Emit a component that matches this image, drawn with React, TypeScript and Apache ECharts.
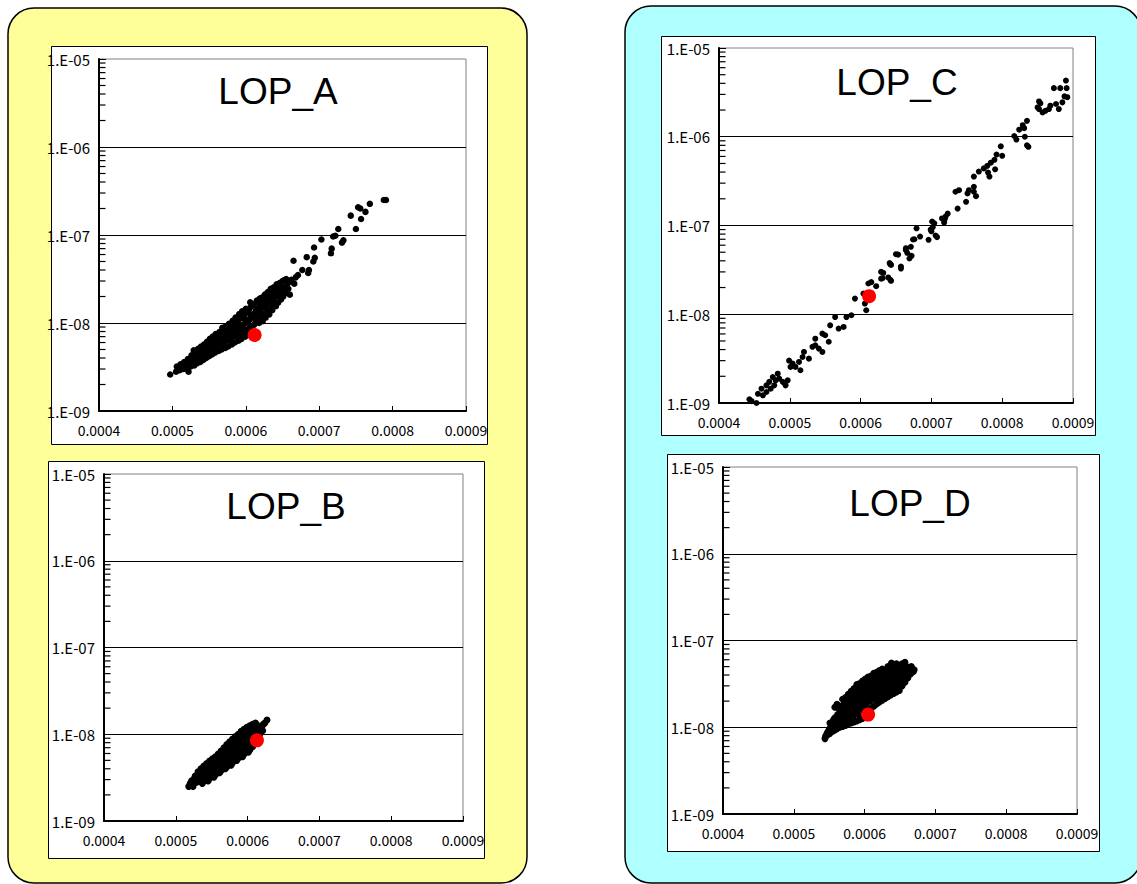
import React, { useEffect, useRef } from 'react';
import * as echarts from 'echarts';

// ---------- tick labels ----------
const xTickLabels = ['0.0004', '0.0005', '0.0006', '0.0007', '0.0008', '0.0009'];
const yTickLabels = ['1.E-09', '1.E-08', '1.E-07', '1.E-06', '1.E-05'];
const xMin = 0.0004;
const xMax = 0.0009;
const xStep = 0.0001;
const yMin = 1e-9;
const yMax = 1e-5;
const minorDecades = [1e-9, 1e-8, 1e-7, 1e-6];
const minorMultipliers = [2, 3, 4, 5, 6, 7, 8, 9];

const chartNames = ['LOP_A', 'LOP_B', 'LOP_C', 'LOP_D'];

// ---------- data (x, y) ----------
const lopA: number[][] = [
  [0.000497, 2.6e-9],
  [0.000505, 2.8e-9], [0.000506, 3.2e-9],
  [0.00051, 2.9e-9], [0.000511, 3.4e-9], [0.000512, 3.1e-9],
  [0.000515, 3.0e-9], [0.000516, 3.6e-9], [0.000517, 3.3e-9],
  [0.00052, 3.0e-9], [0.000521, 3.9e-9], [0.000519, 3.4e-9], [0.000522, 2.8e-9],
  [0.000525, 3.2e-9], [0.000526, 4.3e-9], [0.000524, 3.7e-9],
  [0.00053, 3.3e-9], [0.000529, 4.9e-9], [0.000531, 3.9e-9], [0.000532, 4.4e-9],
  [0.000534, 3.5e-9], [0.000535, 5.1e-9], [0.000533, 4.2e-9], [0.000536, 4.7e-9],
  [0.000538, 3.6e-9], [0.000539, 5.4e-9], [0.000537, 4.5e-9], [0.00054, 4.0e-9],
  [0.000542, 3.8e-9], [0.000543, 5.7e-9], [0.000541, 4.8e-9], [0.000544, 5.2e-9],
  [0.000546, 4.0e-9], [0.000547, 6.1e-9], [0.000545, 5.0e-9], [0.000548, 4.5e-9],
  [0.00055, 4.2e-9], [0.000551, 6.6e-9], [0.000549, 5.4e-9], [0.000552, 4.8e-9], [0.000553, 6.0e-9],
  [0.000554, 4.4e-9], [0.000555, 7.0e-9], [0.000556, 5.7e-9], [0.000557, 5.1e-9],
  [0.000558, 4.6e-9], [0.000559, 7.5e-9], [0.00056, 6.1e-9], [0.000561, 5.4e-9], [0.000562, 6.8e-9],
  [0.000563, 4.8e-9], [0.000564, 7.9e-9], [0.000565, 6.5e-9], [0.000566, 5.7e-9],
  [0.000567, 5.0e-9], [0.000568, 8.8e-9], [0.000569, 6.9e-9], [0.00057, 6.0e-9], [0.000571, 7.6e-9],
  [0.000572, 5.2e-9], [0.000573, 9.2e-9], [0.000574, 7.3e-9], [0.000575, 6.3e-9],
  [0.000576, 5.4e-9], [0.000577, 9.8e-9], [0.000578, 7.7e-9], [0.000579, 6.6e-9], [0.00058, 8.6e-9],
  [0.000581, 5.7e-9], [0.000582, 1.06e-8], [0.000583, 8.1e-9], [0.000584, 7.0e-9],
  [0.000585, 6.0e-9], [0.000586, 1.15e-8], [0.000587, 8.6e-9], [0.000588, 7.3e-9], [0.000589, 9.8e-9],
  [0.00059, 6.3e-9], [0.000591, 1.26e-8], [0.000592, 9.1e-9], [0.000593, 7.7e-9],
  [0.000594, 6.6e-9], [0.000595, 1.36e-8], [0.000596, 9.6e-9], [0.000597, 8.1e-9], [0.000598, 1.12e-8],
  [0.000599, 7.0e-9], [0.0006, 1.45e-8], [0.000601, 1.02e-8], [0.000602, 8.5e-9],
  [0.000603, 7.4e-9], [0.000604, 1.4e-8], [0.000605, 1.08e-8], [0.000606, 9.0e-9], [0.000607, 1.22e-8],
  [0.000608, 7.9e-9], [0.000609, 1.6e-8], [0.00061, 1.15e-8], [0.000611, 9.5e-9],
  [0.000606, 1.72e-8], [0.000612, 1.22e-8], [0.000613, 1.0e-8], [0.000614, 1.4e-8],
  [0.000615, 1.8e-8], [0.000616, 1.3e-8], [0.000617, 1.1e-8],
  [0.000618, 1.0e-8], [0.000619, 1.9e-8], [0.00062, 1.4e-8], [0.000621, 1.2e-8], [0.000622, 1.62e-8],
  [0.000623, 1.05e-8], [0.000624, 1.96e-8], [0.000625, 1.5e-8], [0.000626, 1.28e-8],
  [0.000627, 1.15e-8], [0.000628, 2.1e-8], [0.000629, 1.6e-8], [0.00063, 1.38e-8], [0.000631, 1.82e-8],
  [0.000632, 1.25e-8], [0.000633, 2.3e-8], [0.000634, 1.72e-8], [0.000635, 1.48e-8],
  [0.000636, 1.4e-8], [0.000637, 2.45e-8], [0.000638, 1.85e-8], [0.000639, 1.6e-8], [0.00064, 2.1e-8],
  [0.000641, 1.55e-8], [0.000642, 2.6e-8], [0.000643, 2.0e-8],
  [0.000644, 1.7e-8], [0.000645, 2.75e-8], [0.000646, 2.15e-8], [0.000647, 2.4e-8],
  [0.000648, 1.85e-8], [0.000649, 2.9e-8], [0.00065, 2.3e-8],
  [0.000651, 2.0e-8], [0.000652, 3.05e-8], [0.000653, 2.5e-8],
  [0.000654, 2.2e-8], [0.000655, 3.15e-8], [0.000656, 2.65e-8],
  [0.000658, 2.45e-8], [0.000659, 2.9e-8], [0.00066, 2.1e-8],
  [0.000662, 3.1e-8], [0.000665, 5.1e-8], [0.000666, 2.8e-8], [0.000668, 3.3e-8],
  [0.000671, 3.5e-8], [0.000677, 4.0e-8], [0.000683, 5.6e-8], [0.000685, 3.7e-8],
  [0.000686, 4.0e-8], [0.000692, 5.0e-8], [0.000693, 7.2e-8], [0.000694, 5.5e-8],
  [0.000703, 8.9e-8], [0.000716, 6.2e-8], [0.000717, 7.0e-8], [0.000719, 9.6e-8],
  [0.000722, 9.8e-8], [0.000726, 1.17e-7], [0.000731, 8.2e-8], [0.000733, 8.7e-8],
  [0.000743, 1.66e-7], [0.00075, 1.17e-7], [0.000753, 2.07e-7], [0.000756, 2.0e-7],
  [0.000757, 1.52e-7], [0.000763, 1.83e-7], [0.000769, 2.26e-7], [0.000788, 2.5e-7],
  [0.000791, 2.5e-7],
  // denser core
  [0.000508, 3.0e-9], [0.000513, 3.2e-9], [0.000518, 3.5e-9], [0.000523, 3.5e-9],
  [0.000527, 3.9e-9], [0.000528, 3.5e-9], [0.000532, 4.1e-9], [0.000534, 4.5e-9],
  [0.000537, 4.1e-9], [0.000538, 4.9e-9], [0.00054, 4.4e-9], [0.000542, 5.2e-9],
  [0.000544, 4.6e-9], [0.000546, 5.5e-9], [0.000548, 5.0e-9], [0.00055, 5.8e-9],
  [0.000552, 5.3e-9], [0.000554, 6.2e-9], [0.000556, 5.4e-9], [0.000558, 6.5e-9],
  [0.00056, 5.7e-9], [0.000562, 7.2e-9], [0.000564, 6.0e-9], [0.000566, 7.8e-9],
  [0.000568, 6.3e-9], [0.00057, 8.3e-9], [0.000572, 6.6e-9], [0.000574, 8.6e-9],
  [0.000576, 7.0e-9], [0.000578, 9.0e-9], [0.00058, 7.5e-9], [0.000582, 9.6e-9],
  [0.000584, 8.0e-9], [0.000586, 1.02e-8], [0.000588, 8.5e-9], [0.00059, 1.08e-8],
  [0.000592, 8.8e-9], [0.000594, 1.15e-8], [0.000596, 9.3e-9], [0.000598, 1.25e-8],
  [0.0006, 1.0e-8], [0.000602, 1.32e-8], [0.000604, 1.1e-8], [0.000606, 1.5e-8],
  [0.000608, 1.2e-8], [0.00061, 1.6e-8], [0.000612, 1.3e-8], [0.000614, 1.7e-8],
  [0.000616, 1.45e-8], [0.000618, 1.75e-8], [0.00062, 1.55e-8], [0.000622, 1.95e-8],
  [0.000624, 1.7e-8], [0.000626, 2.1e-8], [0.000628, 1.8e-8], [0.00063, 2.25e-8],
  [0.000632, 1.95e-8], [0.000634, 2.45e-8], [0.000636, 2.1e-8], [0.000638, 2.55e-8],
  [0.00064, 2.3e-8], [0.000642, 2.75e-8], [0.000644, 2.45e-8], [0.000646, 2.85e-8],
  [0.000648, 2.6e-8], [0.00065, 3.0e-8],
];
const lopARef: number[][] = [[0.000612, 7.3e-9]];

const lopB: number[][] = [
  [0.000518, 2.5e-9],
  [0.000521, 2.6e-9], [0.000522, 2.9e-9],
  [0.000525, 2.7e-9], [0.000526, 3.1e-9], [0.000524, 2.5e-9],
  [0.000529, 2.8e-9], [0.00053, 3.4e-9], [0.000528, 3.1e-9], [0.000531, 3.7e-9],
  [0.000533, 2.9e-9], [0.000534, 3.6e-9], [0.000532, 3.2e-9], [0.000535, 4.0e-9],
  [0.000537, 3.0e-9], [0.000538, 3.9e-9], [0.000536, 3.4e-9], [0.000539, 4.3e-9], [0.000537, 2.7e-9],
  [0.000541, 3.1e-9], [0.000542, 4.2e-9], [0.00054, 3.6e-9], [0.000543, 4.6e-9],
  [0.000545, 3.3e-9], [0.000546, 4.5e-9], [0.000544, 3.8e-9], [0.000547, 4.9e-9], [0.000545, 2.9e-9],
  [0.000549, 3.4e-9], [0.00055, 4.8e-9], [0.000548, 4.0e-9], [0.000551, 5.2e-9],
  [0.000553, 3.6e-9], [0.000554, 5.1e-9], [0.000552, 4.3e-9], [0.000555, 5.5e-9], [0.000553, 3.2e-9],
  [0.000557, 3.8e-9], [0.000558, 5.5e-9], [0.000556, 4.6e-9], [0.000559, 5.9e-9],
  [0.000561, 4.0e-9], [0.000562, 5.9e-9], [0.00056, 4.9e-9], [0.000563, 6.4e-9], [0.000561, 3.6e-9],
  [0.000565, 4.2e-9], [0.000566, 6.4e-9], [0.000564, 5.2e-9], [0.000567, 7.0e-9],
  [0.000569, 4.4e-9], [0.00057, 6.9e-9], [0.000568, 5.6e-9], [0.000571, 7.6e-9], [0.000569, 4.0e-9],
  [0.000573, 4.7e-9], [0.000574, 7.4e-9], [0.000572, 6.0e-9], [0.000575, 8.2e-9],
  [0.000577, 5.0e-9], [0.000578, 7.9e-9], [0.000576, 6.4e-9], [0.000579, 8.8e-9], [0.000577, 4.4e-9],
  [0.000581, 5.3e-9], [0.000582, 8.4e-9], [0.00058, 6.8e-9], [0.000583, 9.4e-9],
  [0.000585, 5.6e-9], [0.000586, 9.0e-9], [0.000584, 7.2e-9], [0.000587, 1.0e-8], [0.000585, 5.0e-9],
  [0.000589, 5.9e-9], [0.00059, 9.5e-9], [0.000588, 7.6e-9], [0.000591, 1.08e-8],
  [0.000593, 6.2e-9], [0.000594, 1.0e-8], [0.000592, 8.0e-9], [0.000595, 1.14e-8], [0.000593, 5.5e-9],
  [0.000597, 6.6e-9], [0.000598, 1.05e-8], [0.000596, 8.5e-9], [0.000599, 1.2e-8],
  [0.000601, 7.0e-9], [0.000602, 1.1e-8], [0.0006, 9.0e-9], [0.000603, 1.25e-8], [0.000601, 6.2e-9],
  [0.000605, 7.5e-9], [0.000606, 1.15e-8], [0.000604, 9.5e-9], [0.000607, 1.3e-8],
  [0.000609, 8.0e-9], [0.00061, 1.2e-8], [0.000608, 1.0e-8], [0.000611, 1.35e-8],
  [0.000613, 9.0e-9], [0.000614, 1.25e-8], [0.000612, 1.1e-8],
  [0.000617, 1.0e-8], [0.000618, 1.24e-8], [0.000616, 1.15e-8],
  [0.000621, 1.1e-8], [0.000622, 1.3e-8], [0.000627, 1.46e-8],
  // denser core
  [0.00052, 2.7e-9], [0.000523, 2.8e-9], [0.000527, 2.9e-9], [0.000527, 3.3e-9],
  [0.000531, 3.0e-9], [0.000531, 3.4e-9], [0.000535, 3.3e-9], [0.000535, 3.7e-9],
  [0.000539, 3.5e-9], [0.000539, 4.0e-9], [0.000543, 3.7e-9], [0.000543, 4.3e-9],
  [0.000547, 4.0e-9], [0.000547, 4.6e-9], [0.000551, 4.2e-9], [0.000551, 4.9e-9],
  [0.000555, 4.4e-9], [0.000555, 5.2e-9], [0.000559, 4.8e-9], [0.000559, 5.6e-9],
  [0.000563, 5.1e-9], [0.000563, 6.0e-9], [0.000567, 5.4e-9], [0.000567, 6.5e-9],
  [0.000571, 5.8e-9], [0.000571, 7.0e-9], [0.000575, 6.2e-9], [0.000575, 7.6e-9],
  [0.000579, 6.6e-9], [0.000579, 8.1e-9], [0.000583, 7.0e-9], [0.000583, 8.7e-9],
  [0.000587, 7.4e-9], [0.000587, 9.2e-9], [0.000591, 7.8e-9], [0.000591, 9.8e-9],
  [0.000595, 8.2e-9], [0.000595, 1.03e-8], [0.000599, 8.7e-9], [0.000599, 1.1e-8],
  [0.000603, 9.3e-9], [0.000603, 1.15e-8], [0.000607, 1.0e-8], [0.000607, 1.2e-8],
  [0.000611, 1.08e-8], [0.000615, 1.18e-8], [0.000619, 1.2e-8], [0.000624, 1.35e-8],
  [0.000539, 2.9e-9], [0.000547, 3.1e-9], [0.000555, 3.4e-9], [0.000563, 3.8e-9],
  [0.000571, 4.2e-9], [0.000579, 4.7e-9], [0.000587, 5.3e-9], [0.000595, 5.9e-9],
  [0.000603, 6.6e-9], [0.000607, 7.2e-9], [0.000541, 3.3e-9], [0.000557, 4.1e-9],
  [0.000573, 5.1e-9], [0.000589, 6.4e-9], [0.000605, 8.2e-9],
  [0.000545, 3.6e-9], [0.000553, 4.0e-9], [0.000561, 4.5e-9], [0.000565, 4.7e-9],
  [0.000569, 5.0e-9], [0.000573, 5.3e-9], [0.000577, 5.6e-9], [0.000581, 5.9e-9],
  [0.000585, 6.2e-9], [0.000589, 6.5e-9], [0.000593, 6.9e-9], [0.000597, 7.3e-9],
  [0.000601, 7.8e-9],
];
const lopBRef: number[][] = [[0.000613, 8.5e-9]];

const lopC: number[][] = [
  [0.000443, 1.1e-9], [0.000446, 1.05e-9], [0.000453, 1.0e-9],
  [0.000455, 1.27e-9], [0.000462, 1.22e-9], [0.000467, 1.33e-9], [0.00046, 1.45e-9],
  [0.000467, 1.58e-9], [0.000471, 1.73e-9], [0.000476, 1.96e-9], [0.00048, 1.8e-9],
  [0.000485, 1.88e-9], [0.00049, 1.73e-9], [0.000494, 1.58e-9], [0.000478, 1.58e-9],
  [0.000473, 1.45e-9], [0.000483, 2.14e-9], [0.000497, 1.8e-9], [0.000499, 3.0e-9],
  [0.000501, 2.55e-9], [0.000504, 2.78e-9], [0.000508, 2.55e-9], [0.000513, 2.9e-9],
  [0.000515, 2.34e-9], [0.000518, 3.3e-9], [0.00052, 3.76e-9], [0.000527, 3.16e-9],
  [0.000532, 4.3e-9], [0.000536, 4.47e-9], [0.000541, 4.1e-9], [0.000546, 3.76e-9],
  [0.000536, 5.3e-9], [0.000546, 6.05e-9], [0.00055, 5.8e-9], [0.000555, 4.9e-9],
  [0.000557, 7.5e-9], [0.000564, 9.3e-9], [0.000569, 6.9e-9], [0.000576, 7.2e-9],
  [0.00058, 9.3e-9], [0.000587, 9.75e-9], [0.000592, 1.5e-8], [0.000604, 1.71e-8],
  [0.000606, 1.32e-8], [0.000608, 1.11e-8], [0.000611, 2.22e-8], [0.000615, 2.3e-8],
  [0.000622, 2.07e-8], [0.000629, 2.52e-8], [0.000632, 2.92e-8], [0.000639, 2.6e-8],
  [0.000643, 2.38e-8], [0.000642, 3.66e-8], [0.00065, 4.75e-8], [0.000657, 3.27e-8],
  [0.000664, 5.27e-8], [0.000669, 4.25e-8], [0.000671, 5.75e-8], [0.000674, 6.95e-8],
  [0.000664, 5.55e-8], [0.000666, 4.9e-8], [0.000672, 4.55e-8], [0.000657, 3.45e-8],
  [0.000643, 3.6e-8], [0.000642, 2.44e-8], [0.000631, 2.55e-8], [0.000629, 3.0e-8],
  [0.000641, 3.77e-8], [0.000653, 4.7e-8],
  [0.000679, 9.3e-8], [0.000684, 7.5e-8], [0.000676, 7.0e-8], [0.000696, 6.9e-8],
  [0.000699, 9.0e-8], [0.000701, 1.11e-7], [0.000708, 7.4e-8], [0.000715, 1.2e-7],
  [0.00072, 1.26e-7], [0.000718, 1.08e-7], [0.000723, 1.36e-7], [0.000719, 1.19e-7],
  [0.000704, 1.06e-7], [0.000702, 9.6e-8], [0.0007, 8.6e-8], [0.000706, 7.7e-8],
  [0.00076, 2.73e-7], [0.000753, 2.5e-7], [0.000751, 2.3e-7], [0.00076, 2.4e-7],
  [0.000763, 2.14e-7], [0.000749, 1.85e-7], [0.000739, 2.5e-7], [0.000734, 2.4e-7],
  [0.000737, 1.55e-7],
  [0.000798, 7.8e-7], [0.0008, 6.1e-7], [0.000792, 6.3e-7], [0.000789, 5.5e-7],
  [0.000784, 5.1e-7], [0.000779, 4.7e-7], [0.000774, 4.4e-7], [0.00078, 3.95e-7],
  [0.000782, 3.56e-7], [0.00079, 4.3e-7], [0.00076, 3.56e-7], [0.000767, 4.05e-7],
  [0.000817, 1.02e-6], [0.00082, 9.3e-7], [0.000832, 1.0e-6], [0.000835, 8.0e-7],
  [0.000837, 7.7e-7], [0.000835, 1.51e-6], [0.000829, 1.35e-6], [0.000824, 1.2e-6],
  [0.000831, 1.25e-6],
  [0.000852, 2.5e-6], [0.000854, 2.38e-6], [0.00085, 2.14e-6], [0.000852, 2.05e-6],
  [0.000857, 1.88e-6], [0.000861, 1.96e-6], [0.000866, 2.05e-6],
  [0.00089, 4.3e-6], [0.000873, 3.53e-6], [0.000882, 3.53e-6], [0.000891, 3.53e-6],
  [0.000892, 2.79e-6], [0.000888, 2.85e-6], [0.000885, 2.44e-6], [0.000876, 2.34e-6],
  [0.000868, 2.24e-6], [0.00088, 2.05e-6],
];
const lopCRef: number[][] = [[0.000612, 1.6e-8]];

const lopD: number[][] = [
  [0.000544, 7.4e-9], [0.000545, 7.9e-9],
  [0.000548, 8.2e-9], [0.000549, 9.0e-9],
  [0.000551, 8.5e-9], [0.000552, 1.0e-8], [0.000551, 1.12e-8],
  [0.000555, 9.0e-9], [0.000554, 1.05e-8], [0.000556, 1.2e-8],
  [0.000558, 9.3e-9], [0.000557, 1.1e-8], [0.000559, 1.3e-8], [0.000558, 1.7e-8],
  [0.000561, 9.6e-9], [0.00056, 1.15e-8], [0.000562, 1.4e-8], [0.000561, 1.84e-8],
  [0.000565, 1.0e-8], [0.000564, 1.2e-8], [0.000566, 1.5e-8], [0.000565, 1.75e-8],
  [0.000569, 1.02e-8], [0.000568, 1.3e-8], [0.00057, 1.6e-8], [0.000569, 2.1e-8], [0.000571, 1.85e-8],
  [0.000573, 1.05e-8], [0.000572, 1.35e-8], [0.000574, 1.7e-8], [0.000573, 2.2e-8], [0.000575, 1.2e-8],
  [0.000577, 1.1e-8], [0.000576, 1.45e-8], [0.000578, 1.85e-8], [0.000577, 2.4e-8], [0.000579, 2.1e-8],
  [0.000581, 1.12e-8], [0.00058, 1.5e-8], [0.000582, 1.95e-8], [0.000581, 2.6e-8], [0.000583, 1.3e-8],
  [0.000585, 1.15e-8], [0.000584, 1.6e-8], [0.000586, 2.05e-8], [0.000585, 2.8e-8], [0.000587, 2.4e-8],
  [0.000589, 1.18e-8], [0.000588, 1.7e-8], [0.00059, 2.2e-8], [0.000589, 3.1e-8], [0.000591, 1.4e-8],
  [0.000593, 1.22e-8], [0.000592, 1.8e-8], [0.000594, 2.35e-8], [0.000593, 3.2e-8], [0.000595, 2.7e-8],
  [0.000597, 1.26e-8], [0.000596, 1.9e-8], [0.000598, 2.5e-8], [0.000597, 3.4e-8], [0.000599, 1.55e-8],
  [0.000601, 1.35e-8], [0.0006, 2.0e-8], [0.000602, 2.65e-8], [0.000601, 3.6e-8], [0.000603, 3.0e-8],
  [0.000605, 1.6e-8], [0.000604, 2.1e-8], [0.000606, 2.8e-8], [0.000605, 3.8e-8], [0.000607, 2.4e-8],
  [0.000609, 1.65e-8], [0.000608, 2.2e-8], [0.00061, 2.95e-8], [0.000609, 3.9e-8], [0.000611, 3.35e-8],
  [0.000613, 1.75e-8], [0.000612, 2.3e-8], [0.000614, 3.1e-8], [0.000613, 4.2e-8], [0.000615, 2.65e-8],
  [0.000617, 1.85e-8], [0.000616, 2.45e-8], [0.000618, 3.25e-8], [0.000617, 4.3e-8], [0.000619, 3.7e-8],
  [0.000621, 1.95e-8], [0.00062, 2.55e-8], [0.000622, 3.4e-8], [0.000621, 4.5e-8], [0.000623, 2.95e-8],
  [0.000625, 2.05e-8], [0.000624, 2.7e-8], [0.000626, 3.55e-8], [0.000625, 4.7e-8], [0.000627, 4.0e-8],
  [0.000629, 2.15e-8], [0.000628, 2.8e-8], [0.00063, 3.7e-8], [0.000629, 4.4e-8],
  [0.000633, 2.25e-8], [0.000632, 2.95e-8], [0.000634, 3.85e-8], [0.000633, 5.0e-8], [0.000635, 4.5e-8],
  [0.000637, 2.35e-8], [0.000636, 3.1e-8], [0.000638, 4.0e-8], [0.000638, 5.5e-8],
  [0.000641, 2.45e-8], [0.00064, 3.25e-8], [0.000642, 4.2e-8], [0.000641, 5.0e-8],
  [0.000645, 2.55e-8], [0.000644, 3.4e-8], [0.000646, 4.4e-8], [0.000645, 5.4e-8],
  [0.000649, 2.65e-8], [0.000648, 3.5e-8], [0.00065, 4.5e-8],
  [0.000653, 3.0e-8], [0.000652, 3.7e-8], [0.000654, 4.7e-8], [0.000653, 5.4e-8],
  [0.000657, 3.3e-8], [0.000656, 4.0e-8], [0.000658, 4.8e-8], [0.000657, 5.6e-8],
  [0.000661, 3.7e-8], [0.00066, 4.3e-8], [0.000662, 4.9e-8],
  [0.000665, 4.1e-8], [0.000664, 4.8e-8], [0.000666, 5.0e-8],
  [0.000669, 4.4e-8], [0.00067, 4.6e-8],
  // denser core
  [0.000547, 8.6e-9], [0.00055, 9.5e-9], [0.000553, 9.7e-9], [0.000556, 1.0e-8],
  [0.000557, 1.25e-8], [0.00056, 1.05e-8], [0.000561, 1.3e-8], [0.000563, 1.1e-8],
  [0.000564, 1.4e-8], [0.000564, 1.62e-8], [0.000567, 1.13e-8], [0.000568, 1.42e-8],
  [0.000568, 1.72e-8], [0.000571, 1.2e-8], [0.000572, 1.5e-8], [0.000572, 1.95e-8],
  [0.000575, 1.28e-8], [0.000576, 1.6e-8], [0.000576, 2.05e-8], [0.000579, 1.32e-8],
  [0.00058, 1.7e-8], [0.00058, 2.25e-8], [0.000583, 1.4e-8], [0.000584, 1.8e-8],
  [0.000584, 2.4e-8], [0.000587, 1.5e-8], [0.000588, 1.95e-8], [0.000588, 2.6e-8],
  [0.000591, 1.6e-8], [0.000592, 2.05e-8], [0.000592, 2.8e-8], [0.000595, 1.7e-8],
  [0.000596, 2.2e-8], [0.000596, 2.95e-8], [0.000599, 1.8e-8], [0.0006, 2.3e-8],
  [0.0006, 3.1e-8], [0.000603, 1.9e-8], [0.000604, 2.45e-8], [0.000604, 3.3e-8],
  [0.000607, 2.0e-8], [0.000608, 2.6e-8], [0.000608, 3.45e-8], [0.000611, 2.1e-8],
  [0.000612, 2.7e-8], [0.000612, 3.6e-8], [0.000615, 2.2e-8], [0.000616, 2.85e-8],
  [0.000616, 3.8e-8], [0.000619, 2.3e-8], [0.00062, 3.0e-8], [0.00062, 3.95e-8],
  [0.000623, 2.4e-8], [0.000624, 3.15e-8], [0.000624, 4.1e-8], [0.000627, 2.5e-8],
  [0.000628, 3.3e-8], [0.000628, 4.2e-8], [0.000631, 2.6e-8], [0.000632, 3.4e-8],
  [0.000632, 4.3e-8], [0.000635, 2.7e-8], [0.000636, 3.55e-8], [0.000636, 4.6e-8],
  [0.000639, 2.85e-8], [0.00064, 3.7e-8], [0.00064, 4.7e-8], [0.000643, 3.0e-8],
  [0.000644, 3.85e-8], [0.000644, 4.9e-8], [0.000647, 3.1e-8], [0.000648, 4.0e-8],
  [0.000648, 5.1e-8], [0.000651, 3.3e-8], [0.000652, 4.2e-8], [0.000655, 3.5e-8],
  [0.000656, 4.4e-8], [0.000659, 3.9e-8], [0.00066, 4.6e-8], [0.000663, 4.3e-8],
  [0.000667, 4.6e-8],
];
const lopDRef: number[][] = [[0.000605, 1.4e-8]];

const seriesData = [lopA, lopB, lopC, lopD];
const refData = [lopARef, lopBRef, lopCRef, lopDRef];

// ---------- layout (pixels) ----------
const panels = [
  { x: 8, y: 8, w: 519, h: 875, fill: '#FFFF99' },
  { x: 625, y: 6, w: 516, h: 877, fill: '#B0FFFF' },
];
const frames = [
  [51, 46, 436, 398],
  [48, 461, 436, 397],
  [661, 36, 434, 399],
  [667, 454, 432, 397],
];
const grids = [
  [99, 59, 367, 352],
  [104, 474, 359, 347],
  [719, 48, 354, 355],
  [723, 467, 354, 347],
];
const titlePos = [
  [278, 91],
  [286, 506],
  [897, 82],
  [910, 503],
];
const dotSizes = [6.5, 7, 6, 7];

const AX_FONT = '"Noto Sans CJK JP", "Liberation Sans", sans-serif';

export default function App() {
  const ref = useRef<HTMLDivElement>(null);
  useEffect(() => {
    if (!ref.current) return;
    const chart = echarts.init(ref.current, undefined, { renderer: 'svg' });

    const graphic: any[] = [];
    panels.forEach((p) => {
      graphic.push({
        type: 'rect',
        z: -10,
        shape: { x: p.x, y: p.y, width: p.w, height: p.h, r: 26 },
        style: { fill: p.fill, stroke: '#000', lineWidth: 1.5 },
      });
    });
    frames.forEach((f) => {
      graphic.push({
        type: 'rect',
        z: -9,
        shape: { x: f[0] + 0.5, y: f[1] + 0.5, width: f[2], height: f[3] },
        style: { fill: '#fff', stroke: '#000', lineWidth: 1 },
      });
    });
    chartNames.forEach((name, i) => {
      graphic.push({
        type: 'text',
        z: 10,
        x: titlePos[i][0],
        y: titlePos[i][1],
        style: {
          text: name,
          fill: '#000',
          font: '37px "Liberation Sans", Arial, sans-serif',
          align: 'center',
          verticalAlign: 'middle',
        },
      });
    });

    const grid = grids.map((g) => ({
      left: g[0],
      top: g[1],
      width: g[2],
      height: g[3],
      show: true,
      borderColor: '#808080',
      borderWidth: 1,
      backgroundColor: 'transparent',
      containLabel: false,
    }));

    const xAxis = grids.map((_, i) => ({
      gridIndex: i,
      type: 'value',
      min: xMin,
      max: xMax,
      interval: xStep,
      axisLine: { show: true, onZero: false, lineStyle: { color: '#000', width: 2 } },
      axisTick: { show: true, inside: true, length: 5, lineStyle: { color: '#000', width: 1 } },
      axisLabel: {
        margin: 12,
        color: '#000',
        fontSize: 14,
        fontFamily: AX_FONT,
        formatter: (v: number) => xTickLabels[Math.round((v - xMin) / xStep)] ?? '',
      },
      splitLine: { show: false },
    }));

    const yAxis = grids.map((_, i) => ({
      gridIndex: i,
      type: 'log',
      logBase: 10,
      min: yMin,
      max: yMax,
      axisLine: { show: true, onZero: false, lineStyle: { color: '#000', width: 2 } },
      axisTick: { show: true, inside: true, length: 7, lineStyle: { color: '#000', width: 1 } },
      axisLabel: {
        margin: 9,
        color: '#000',
        fontSize: 15,
        fontFamily: AX_FONT,
        formatter: (v: number) => yTickLabels[Math.round(Math.log10(v)) + 9] ?? '',
      },
      splitLine: { show: true, showMaxLine: false, lineStyle: { color: '#000', width: 1 } },
    }));

    // minor tick values (2..9 per decade), placed by the log axis itself
    const minorTickData: number[][] = [];
    minorDecades.forEach((d) => {
      minorMultipliers.forEach((m) => minorTickData.push([xMin, d * m]));
    });

    const series: any[] = [];
    grids.forEach((_, i) => {
      series.push({
        type: 'scatter',
        xAxisIndex: i,
        yAxisIndex: i,
        data: minorTickData,
        symbol: 'rect',
        symbolSize: [7, 1.2],
        symbolOffset: [3, 0],
        itemStyle: { color: '#000', opacity: 1 },
        clip: false,
        silent: true,
        z: 6,
      });
    });
    seriesData.forEach((d, i) => {
      series.push({
        type: 'scatter',
        xAxisIndex: i,
        yAxisIndex: i,
        data: d,
        symbol: 'circle',
        symbolSize: dotSizes[i],
        itemStyle: { color: '#000', opacity: 1 },
        silent: true,
      });
    });
    refData.forEach((d, i) => {
      series.push({
        type: 'scatter',
        xAxisIndex: i,
        yAxisIndex: i,
        data: d,
        symbol: 'circle',
        symbolSize: 14,
        itemStyle: { color: '#FF0000', opacity: 1 },
        z: 5,
        silent: true,
      });
    });

    chart.setOption({
      animation: false,
      backgroundColor: '#fff',
      graphic,
      grid,
      xAxis,
      yAxis,
      series,
    });
    return () => chart.dispose();
  }, []);

  return (
    <div
      ref={ref}
      style={{ position: 'absolute', left: 0, top: 0, width: 1137, height: 884 }}
    />
  );
}
